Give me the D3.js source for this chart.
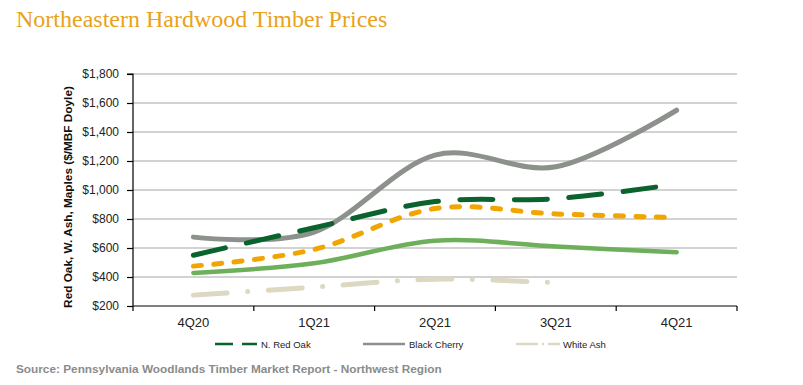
<!DOCTYPE html>
<html>
<head>
<meta charset="utf-8">
<script src="https://cdn.jsdelivr.net/npm/d3@7"></script>
<style>
  body { margin: 0; background: #fff; }
  svg { display: block; }
</style>
</head>
<body>
<svg id="chart" width="803" height="385"></svg>
<script>
// ---- data ----
const categories = ["4Q20", "1Q21", "2Q21", "3Q21", "4Q21"];
const redOak = [550, 740, 920, 940, 1040];
const blackCherry = [675, 710, 1240, 1160, 1550];
const whiteAsh = [275, 330, 385, 360, null];
const hardMaple = [475, 590, 872, 835, 810];   // orange dashed (not in legend)
const softMaple = [428, 495, 650, 610, 570];   // light green solid (not in legend)
const yTicks = [200, 400, 600, 800, 1000, 1200, 1400, 1600, 1800];

const series = [
  { name: "Hard Maple", values: hardMaple, color: "#f0a500", width: 5, dash: "8,12.5", legend: false },
  { name: "Soft Maple", values: softMaple, color: "#6daf5b", width: 4.5, dash: null, legend: false },
  { name: "White Ash", values: whiteAsh, color: "#ddd8c1", width: 5, dash: "34,20.5,0,20.5", legend: true },
  { name: "Black Cherry", values: blackCherry, color: "#8c918b", width: 5, dash: null, legend: true },
  { name: "N. Red Oak", values: redOak, color: "#0a622d", width: 5, dash: "33,21.5", legend: true }
];
const legendOrder = ["N. Red Oak", "Black Cherry", "White Ash"];

(function () {
const svg = d3.select("#chart");
const font = "'Liberation Sans', Arial, sans-serif";

const mLeft = 133, mRight = 737, mTop = 74, mBottom = 306;
const x = d3.scalePoint().domain(categories).range([mLeft, mRight]).padding(0.5);
const xBand = d3.scaleBand().domain(categories).range([mLeft, mRight]);
const y = d3.scaleLinear().domain([200, 1800]).range([mBottom, mTop]);

// title
svg.append("text").attr("x", 16).attr("y", 27)
  .attr("font-family", "'Liberation Serif', 'DejaVu Serif', serif")
  .attr("font-size", 24).attr("fill", "#e9a21a")
  .text("Northeastern Hardwood Timber Prices");

// gridlines
svg.append("g").selectAll("line").data(yTicks.filter(d => d > 200)).join("line")
  .attr("x1", mLeft).attr("x2", mRight)
  .attr("y1", d => y(d)).attr("y2", d => y(d))
  .attr("stroke", "#c3c3c3").attr("stroke-width", 1.3);

// y axis
const yAxis = d3.axisLeft(y).tickValues(yTicks).tickSize(6).tickPadding(8)
  .tickFormat(d => "$" + d3.format(",")(d));
const gy = svg.append("g").attr("transform", `translate(${mLeft},0)`).call(yAxis);
gy.select(".domain").attr("stroke", "#000").attr("stroke-width", 1.2).attr("d", `M-6,${mTop}H0V${mBottom}`);
gy.selectAll(".tick line").attr("stroke", "#000").attr("stroke-width", 1.2);
gy.selectAll(".tick text").attr("font-family", font).attr("font-size", 12).attr("fill", "#222");

// x axis
const gx = svg.append("g").attr("transform", `translate(0,${mBottom})`);
gx.append("line").attr("x1", mLeft).attr("x2", mRight).attr("stroke", "#000").attr("stroke-width", 1.2);
const bounds = categories.map(c => xBand(c)).concat([xBand(categories[categories.length - 1]) + xBand.bandwidth()]);
gx.selectAll("line.tk").data(bounds).join("line").attr("class", "tk")
  .attr("x1", d => d).attr("x2", d => d).attr("y1", 0).attr("y2", 5)
  .attr("stroke", "#000").attr("stroke-width", 1.2);
gx.selectAll("text").data(categories).join("text")
  .attr("x", d => x(d)).attr("y", 21).attr("text-anchor", "middle")
  .attr("font-family", font).attr("font-size", 13).attr("fill", "#222")
  .text(d => d);

// y title
svg.append("text")
  .attr("transform", `translate(72,197) rotate(-90)`)
  .attr("text-anchor", "middle")
  .attr("font-family", font).attr("font-size", 11.8).attr("font-weight", "bold").attr("fill", "#111")
  .text("Red Oak, W. Ash, Maples ($/MBF Doyle)");

// lines
const line = d3.line()
  .defined(d => d.v != null)
  .x(d => x(d.c)).y(d => y(d.v))
  .curve(d3.curveCatmullRom.alpha(0));

svg.append("g").selectAll("path").data(series).join("path")
  .attr("d", s => line(categories.map((c, i) => ({ c, v: s.values[i] }))))
  .attr("fill", "none")
  .attr("stroke", s => s.color)
  .attr("stroke-width", s => s.width)
  .attr("stroke-linecap", "round")
  .attr("stroke-linejoin", "round")
  .attr("stroke-dasharray", s => s.dash);

// legend
const legendX = [215, 363, 517];
const legendDash = { "N. Red Oak": "18,9", "Black Cherry": null, "White Ash": "20,6,0.01,6" };
const lg = svg.append("g");
legendOrder.forEach((n, i) => {
  const s = series.find(d => d.name === n);
  lg.append("line").attr("x1", legendX[i]).attr("x2", legendX[i] + 42)
    .attr("y1", 344).attr("y2", 344)
    .attr("stroke", s.color).attr("stroke-width", 2.5)
    .attr("stroke-linecap", n === "White Ash" ? "round" : "butt")
    .attr("stroke-dasharray", legendDash[n]);
  lg.append("text").attr("x", legendX[i] + 46).attr("y", 347.5)
    .attr("font-family", font).attr("font-size", 9.5).attr("fill", "#222")
    .text(n);
});

// source
svg.append("text").attr("x", 16).attr("y", 373)
  .attr("font-family", font).attr("font-size", 11.8).attr("font-weight", "bold").attr("fill", "#8a8c8a")
  .text("Source: Pennsylvania Woodlands Timber Market Report - Northwest Region");
})();
</script>
</body>
</html>
